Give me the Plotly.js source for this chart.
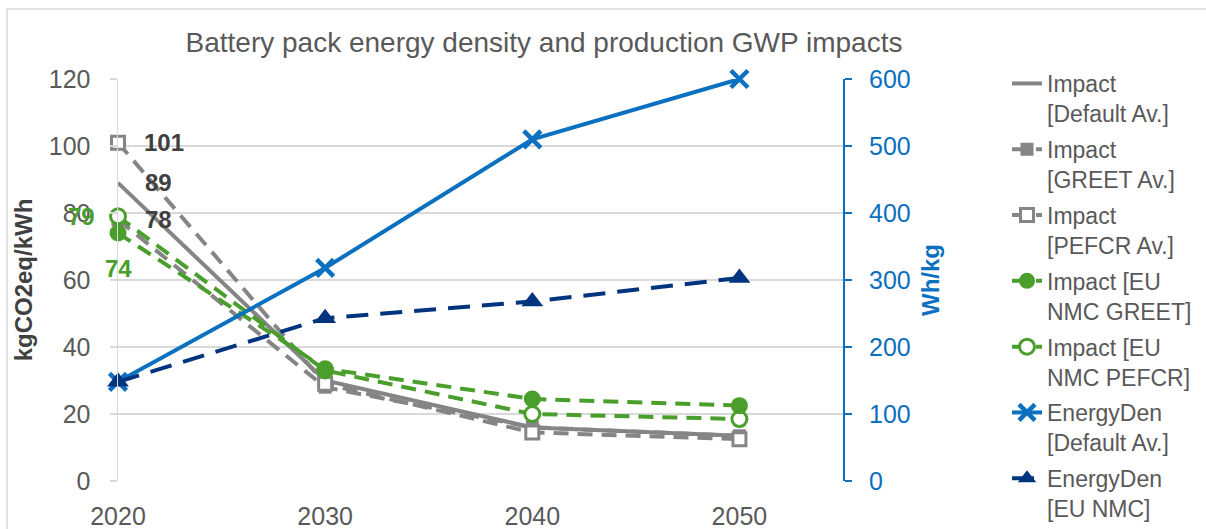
<!DOCTYPE html>
<html>
<head>
<meta charset="utf-8">
<script src="https://cdn.plot.ly/plotly-3.0.1.min.js"></script>
<style>html,body{margin:0;padding:0;background:#fff;}#chart{width:1206px;height:529px;}</style>
</head>
<body>
<div id="chart"></div>
<script>
const years = [2020, 2030, 2040, 2050];
const impactDefault = [89, 30, 16, 13.5];
const impactGreet = [78, 28, 16, 13.5];
const impactPefcr = [101, 29, 14.5, 12.5];
const impactEuGreet = [74, 33.5, 24.5, 22.5];
const impactEuPefcr = [79, 33, 20, 18.5];
const energyDefault = [148, 318, 510, 600];
const energyEu = [148, 243, 268, 303];
const seriesNames = [
  'Impact<br>[Default Av.]',
  'Impact<br>[GREET Av.]',
  'Impact<br>[PEFCR Av.]',
  'Impact [EU<br>NMC GREET]',
  'Impact [EU<br>NMC PEFCR]',
  'EnergyDen<br>[Default Av.]',
  'EnergyDen<br>[EU NMC]'
];

const GRAY = '#858585', GREEN = '#4a9e2c', BLUE = '#0a70bf', NAVY = '#00347f';
const FONT = 'Liberation Sans, Arial, sans-serif';
const DASH = '15px,9px';

const traces = [
  {x: years, y: impactDefault, name: seriesNames[0], mode: 'lines', legendrank: 1,
   line: {color: GRAY, width: 4}},
  {x: years, y: impactGreet, name: seriesNames[1], mode: 'lines+markers', legendrank: 2,
   line: {color: GRAY, width: 4, dash: DASH},
   marker: {symbol: 'square', size: 13, color: GRAY}},
  {x: years, y: impactPefcr, name: seriesNames[2], mode: 'lines+markers', legendrank: 3,
   line: {color: GRAY, width: 4, dash: DASH},
   marker: {symbol: 'square', size: 13, color: '#ffffff', line: {color: GRAY, width: 3}}},
  {x: years, y: impactEuPefcr, name: seriesNames[4], mode: 'lines+markers', legendrank: 5,
   line: {color: GREEN, width: 4, dash: DASH},
   marker: {symbol: 'circle', size: 15, color: '#ffffff', line: {color: GREEN, width: 3}}},
  {x: years, y: impactEuGreet, name: seriesNames[3], mode: 'lines+markers', legendrank: 4,
   line: {color: GREEN, width: 4, dash: DASH},
   marker: {symbol: 'circle', size: 17, color: GREEN}},
  {x: years, y: energyDefault, name: seriesNames[5], mode: 'lines+markers', yaxis: 'y2', legendrank: 6,
   line: {color: BLUE, width: 4},
   marker: {symbol: 'x-thin', size: 17, color: BLUE, line: {color: BLUE, width: 4.5}}},
  {x: years, y: energyEu, name: seriesNames[6], mode: 'lines+markers', yaxis: 'y2', legendrank: 7,
   line: {color: NAVY, width: 4, dash: '22px,12px'},
   marker: {symbol: 'triangle-up', size: 19, color: NAVY}}
];
traces.forEach((t, i) => { t.legendgroup = 'g' + i; t.cliponaxis = false; t.hoverinfo = 'skip'; });

const lblFont = {family: FONT, size: 24, color: '#404040', weight: 'bold'};
const annotations = [
  {x: years[0], y: impactPefcr[0], text: '<b>' + impactPefcr[0] + '</b>', xshift: 46, font: lblFont},
  {x: years[0], y: impactDefault[0], text: '<b>' + impactDefault[0] + '</b>', xshift: 40, font: lblFont},
  {x: years[0], y: impactGreet[0], text: '<b>' + impactGreet[0] + '</b>', xshift: 40, font: lblFont},
  {x: years[0], y: impactEuPefcr[0], text: '<b>' + impactEuPefcr[0] + '</b>', xshift: -37, font: Object.assign({}, lblFont, {color: GREEN})},
  {x: years[0], y: impactEuGreet[0], text: '<b>' + impactEuGreet[0] + '</b>', yshift: -35, font: Object.assign({}, lblFont, {color: GREEN})}
].map(a => Object.assign({xref: 'x', yref: 'y', showarrow: false, xanchor: 'center', yanchor: 'middle'}, a));

const L = 118, R = 363, T = 79, B = 48, W = 1206, H = 529;
const pw = W - L - R, ph = H - T - B;
const px2x = p => (p - L) / pw;
const px2y = p => 1 - (p - T) / ph;

const layout = {
  width: W, height: H,
  margin: {l: L, r: R, t: T, b: B, pad: 0},
  paper_bgcolor: '#ffffff', plot_bgcolor: '#ffffff',
  font: {family: FONT, size: 25, color: '#595959'},
  title: {text: 'Battery pack energy density and production GWP impacts',
          font: {family: FONT, size: 28, color: '#595959'},
          xref: 'container', x: 544 / W, xanchor: 'center',
          yref: 'container', y: 1 - 42 / H, yanchor: 'middle'},
  showlegend: true,
  legend: {xref: 'container', yref: 'container', x: 1007 / W, y: 1 - 62 / H,
           xanchor: 'left', yanchor: 'top', valign: 'top', maxheight: 1000,
           font: {family: FONT, size: 23, color: '#595959'},
           tracegroupgap: 3, bgcolor: 'rgba(0,0,0,0)'},
  xaxis: {range: [2020, 2055], tickvals: years, ticktext: years.map(String),
          showgrid: false, zeroline: false, showline: false, ticks: '',
          ticklabelstandoff: 18, tickfont: {size: 25, color: '#595959'}},
  yaxis: {range: [0, 120], dtick: 20, showgrid: true, gridcolor: '#d9d9d9', gridwidth: 1.5,
          zeroline: false, showline: true, linecolor: '#d9d9d9', linewidth: 1.5,
          ticks: 'outside', ticklen: 7, tickcolor: '#d9d9d9', tickwidth: 1.5,
          ticklabelstandoff: 14, tickfont: {size: 25, color: '#595959'},
          title: {text: 'kgCO2eq/kWh', standoff: 9,
                  font: {family: FONT, size: 24, color: '#404040', weight: 'bold'}}},
  yaxis2: {range: [0, 600], dtick: 100, overlaying: 'y', side: 'right', showgrid: false,
           zeroline: false, showline: true, linecolor: BLUE, linewidth: 2,
           ticks: 'outside', ticklen: 7, tickcolor: BLUE, tickwidth: 2,
           ticklabelstandoff: 12, tickfont: {size: 25, color: BLUE},
           title: {text: 'Wh/kg', standoff: 12,
                   font: {family: FONT, size: 24, color: BLUE, weight: 'bold'}}},
  annotations: annotations,
  shapes: [{type: 'rect', xref: 'paper', yref: 'paper', layer: 'below',
            x0: px2x(7), x1: px2x(1215), y0: px2y(540), y1: px2y(9),
            line: {color: '#d9d9d9', width: 1.5}, fillcolor: 'rgba(0,0,0,0)'}]
};

Plotly.newPlot('chart', traces, layout, {displayModeBar: false, staticPlot: true});
</script>
</body>
</html>
